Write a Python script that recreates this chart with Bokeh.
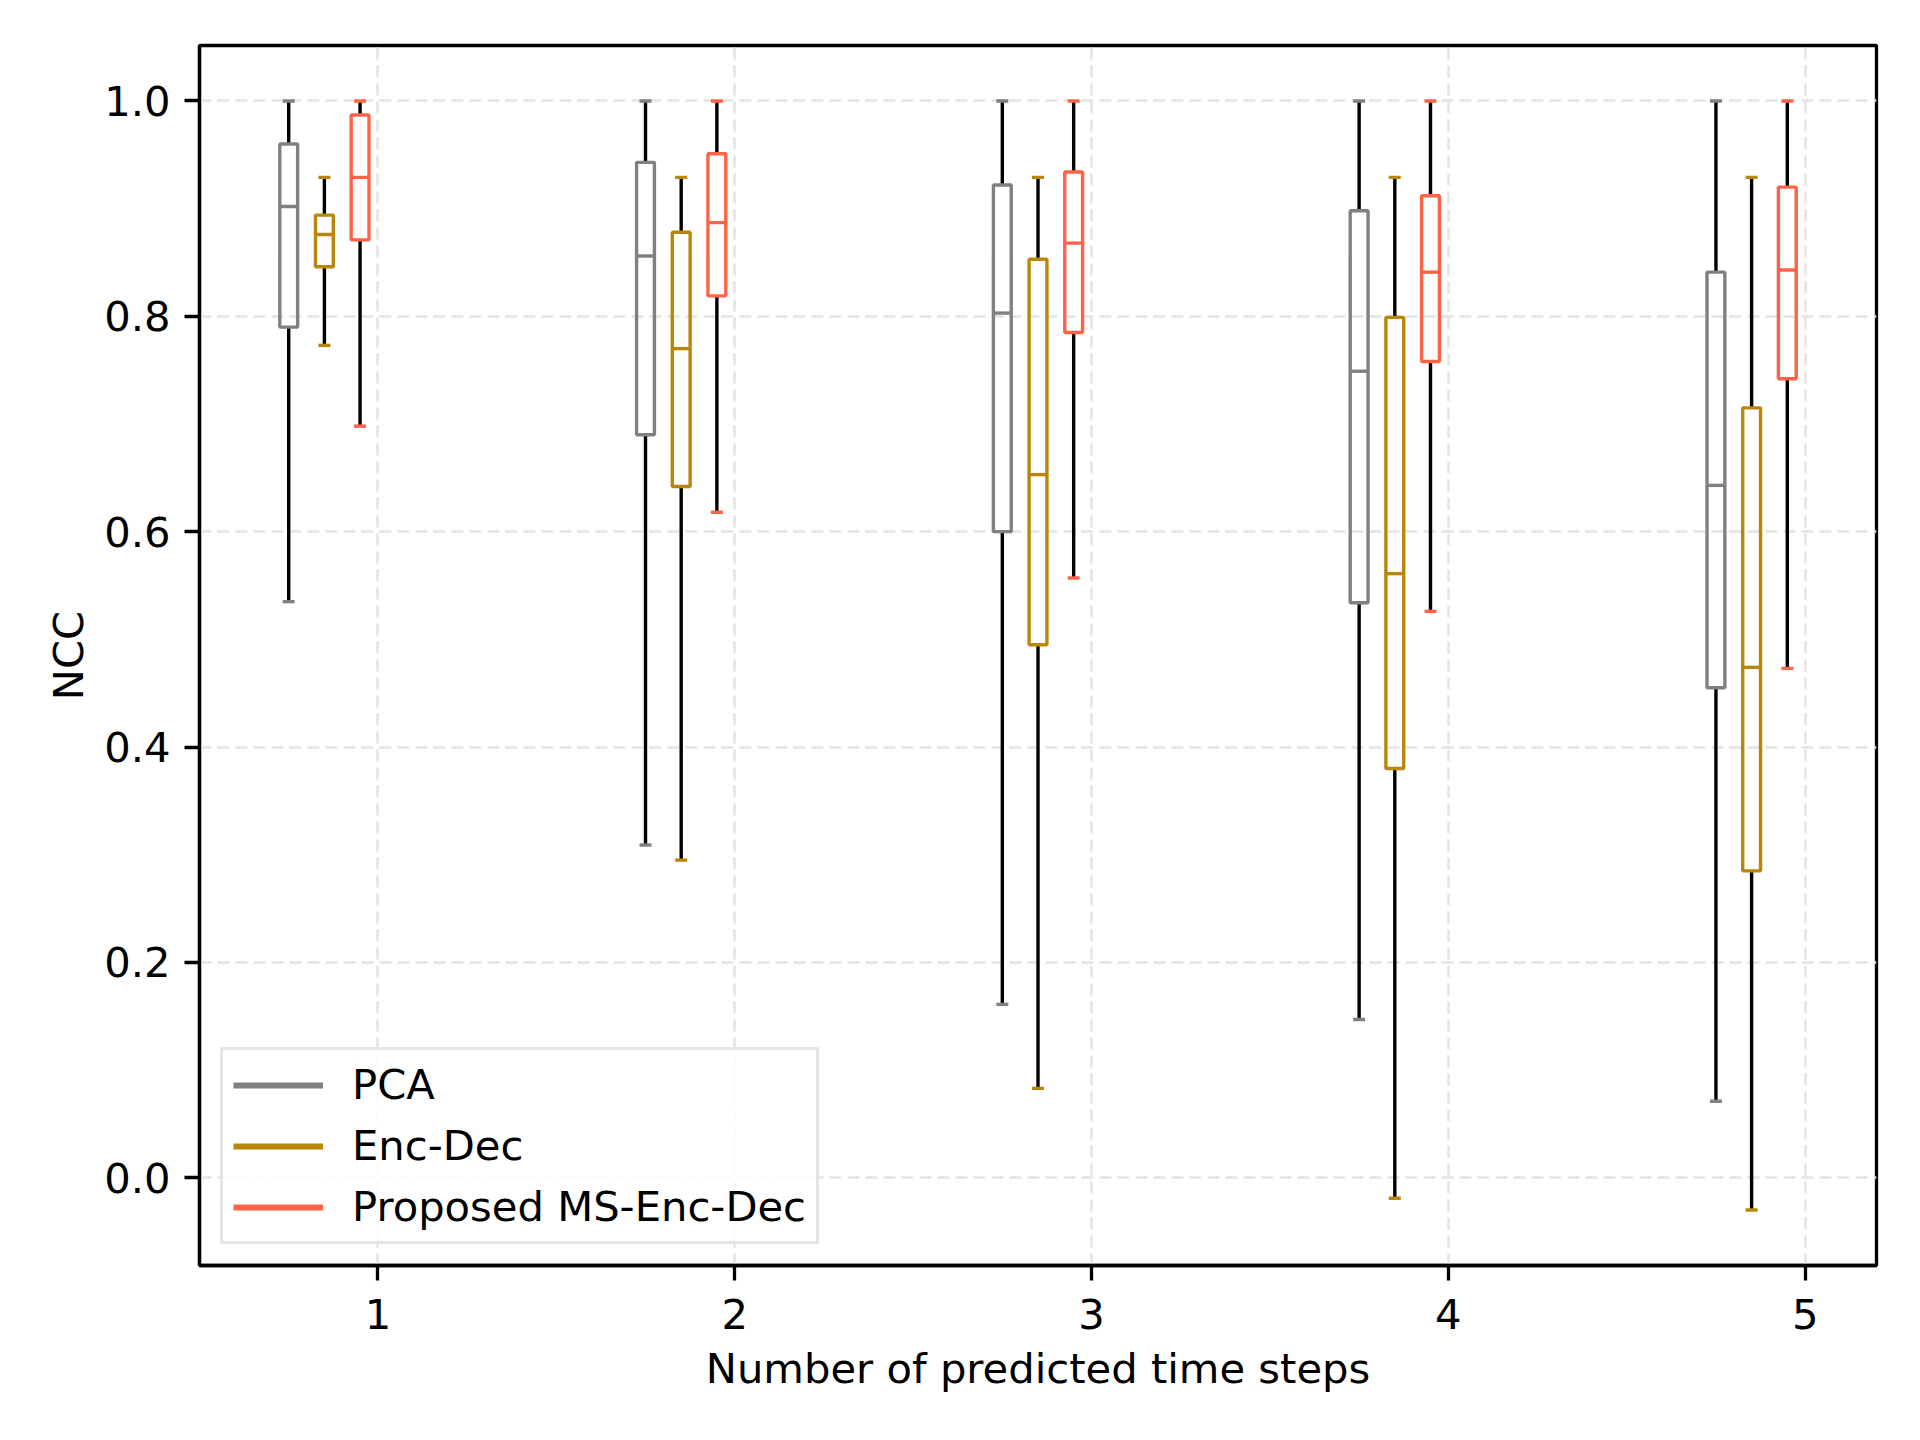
from bokeh.plotting import figure
from bokeh.models import Range1d, FixedTicker, Legend, LegendItem, ColumnDataSource
from bokeh.embed import file_html
from bokeh.resources import INLINE

# ---- data ----
steps = [1, 2, 3, 4, 5]
methods = ["PCA", "Enc-Dec", "Proposed MS-Enc-Dec"]
colors = ["#808080", "#b8860b", "#ff6347"]
offsets = [-0.25, -0.15, -0.05]

pca_lo = [0.535, 0.309, 0.161, 0.147, 0.071]
pca_q1 = [0.790, 0.690, 0.600, 0.534, 0.455]
pca_med = [0.902, 0.856, 0.803, 0.749, 0.643]
pca_q3 = [0.960, 0.943, 0.922, 0.898, 0.841]
pca_hi = [1.0, 1.0, 1.0, 1.0, 1.0]

enc_lo = [0.773, 0.295, 0.083, -0.019, -0.030]
enc_q1 = [0.846, 0.642, 0.495, 0.380, 0.285]
enc_med = [0.876, 0.770, 0.653, 0.561, 0.474]
enc_q3 = [0.894, 0.878, 0.853, 0.799, 0.715]
enc_hi = [0.929, 0.929, 0.929, 0.929, 0.929]

ms_lo = [0.698, 0.618, 0.557, 0.526, 0.473]
ms_q1 = [0.871, 0.819, 0.785, 0.758, 0.742]
ms_med = [0.929, 0.887, 0.868, 0.841, 0.843]
ms_q3 = [0.987, 0.951, 0.934, 0.912, 0.920]
ms_hi = [1.0, 1.0, 1.0, 1.0, 1.0]

series = [
    (pca_lo, pca_q1, pca_med, pca_q3, pca_hi),
    (enc_lo, enc_q1, enc_med, enc_q3, enc_hi),
    (ms_lo, ms_q1, ms_med, ms_q3, ms_hi),
]

y_ticks = [0.0, 0.2, 0.4, 0.6, 0.8, 1.0]

FONT = "DejaVu Sans"
FS = "41.7px"

p = figure(width=1904, height=1424, output_backend="svg", toolbar_location=None,
           x_range=Range1d(0.5, 5.2), y_range=Range1d(-0.0815, 1.0515),
           min_border_left=199, min_border_right=28, min_border_top=45,
           min_border_bottom=159, background_fill_color="white",
           border_fill_color="white")

p.outline_line_color = "black"
p.outline_line_width = 3.3

for ax in (p.xaxis[0], p.yaxis[0]):
    ax.axis_line_color = "black"
    ax.axis_line_width = 3.3
    ax.major_tick_line_color = "black"
    ax.major_tick_line_width = 3.3
    ax.major_tick_out = 15
    ax.major_tick_in = 0
    ax.minor_tick_line_color = None
    ax.major_label_text_font = FONT
    ax.major_label_text_font_size = FS
    ax.major_label_text_color = "black"
    ax.axis_label_text_font = FONT
    ax.axis_label_text_font_size = FS
    ax.axis_label_text_font_style = "normal"
    ax.axis_label_text_color = "black"

p.xaxis.ticker = FixedTicker(ticks=steps)
p.yaxis.ticker = FixedTicker(ticks=y_ticks)
p.yaxis.major_label_overrides = {t: f"{t:.1f}" for t in y_ticks}
p.xaxis.axis_label = "Number of predicted time steps"
p.yaxis.axis_label = "NCC"
p.xaxis.major_label_standoff = 18
p.yaxis.major_label_standoff = 14
p.xaxis.axis_label_standoff = 12
p.yaxis.axis_label_standoff = 8

for g in (p.xgrid[0], p.ygrid[0]):
    g.grid_line_color = "#e3e3e3"
    g.grid_line_width = 2.5
    g.grid_line_dash = "12 6"
p.xgrid.ticker = FixedTicker(ticks=steps)
p.ygrid.ticker = FixedTicker(ticks=y_ticks)

BW = 0.05 / 2
CW = 0.0168
LW = 3.4

legend_items = []
for (lo, q1, med, q3, hi), off, col, name in zip(series, offsets, colors, methods):
    xs = [s + off for s in steps]
    src = ColumnDataSource(dict(x=xs, lo=lo, q1=q1, med=med, q3=q3, hi=hi,
                                l=[x - BW for x in xs], r=[x + BW for x in xs],
                                cl=[x - CW for x in xs], cr=[x + CW for x in xs]))
    # whiskers
    p.segment("x", "q3", "x", "hi", source=src, line_color="black", line_width=LW)
    p.segment("x", "q1", "x", "lo", source=src, line_color="black", line_width=LW)
    # caps
    p.segment("cl", "hi", "cr", "hi", source=src, line_color=col, line_width=LW)
    p.segment("cl", "lo", "cr", "lo", source=src, line_color=col, line_width=LW)
    # boxes
    p.quad(left="l", right="r", bottom="q1", top="q3", source=src,
           fill_color=None, line_color=col, line_width=LW)
    # medians
    p.segment("l", "med", "r", "med", source=src, line_color=col, line_width=LW)
    # legend proxy (outside visible range)
    lr = p.line(x=[-10, -9], y=[-10, -10], line_color=col, line_width=6)
    legend_items.append(LegendItem(label=name, renderers=[lr]))

legend = Legend(items=legend_items, location=(21, 21), margin=0,
                padding=10, spacing=12, glyph_width=90, glyph_height=40,
                label_height=40, label_standoff=29,
                label_text_font=FONT, label_text_font_size=FS,
                label_text_color="black",
                border_line_color="#cccccc", border_line_width=3.3,
                background_fill_color="white", background_fill_alpha=0.8)
p.add_layout(legend, "center")

open("out.html", "w").write(file_html(p, INLINE))
